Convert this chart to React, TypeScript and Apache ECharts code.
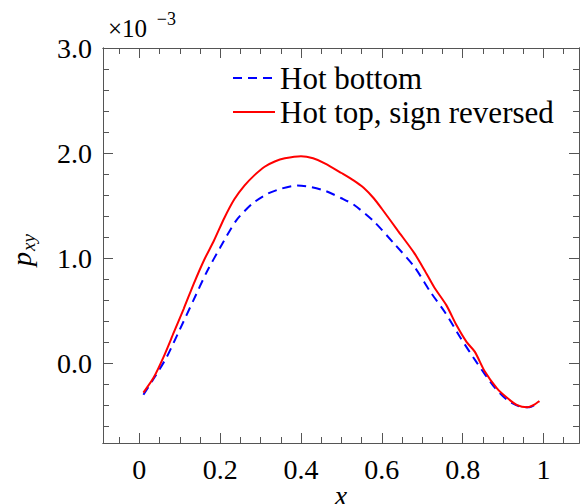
import React, { useEffect, useRef } from 'react';
import * as echarts from 'echarts';

// ---- data (y values in units of 1e-3) ----
const hotBottomX = [0.01, 0.04, 0.068, 0.1, 0.134, 0.167, 0.2, 0.24, 0.28, 0.316, 0.35, 0.39, 0.42, 0.46, 0.5, 0.53, 0.58, 0.63, 0.68, 0.72, 0.757, 0.795, 0.836, 0.877, 0.91, 0.94, 0.965, 0.99];
const hotBottomY = [-0.3, -0.12, 0.06, 0.32, 0.6, 0.87, 1.1, 1.36, 1.52, 1.61, 1.66, 1.69, 1.68, 1.64, 1.57, 1.51, 1.35, 1.14, 0.92, 0.68, 0.48, 0.24, 0.0, -0.22, -0.35, -0.41, -0.42, -0.37];

const hotTopX = [0.01, 0.035, 0.06, 0.085, 0.11, 0.135, 0.16, 0.185, 0.21, 0.235, 0.26, 0.285, 0.31, 0.335, 0.36, 0.4, 0.43, 0.46, 0.5, 0.53, 0.555, 0.58, 0.6, 0.64, 0.68, 0.705, 0.73, 0.76, 0.785, 0.81, 0.83, 0.855, 0.885, 0.91, 0.935, 0.96, 0.975, 0.99];
const hotTopY = [-0.28, -0.14, 0.06, 0.29, 0.52, 0.76, 0.98, 1.17, 1.38, 1.56, 1.69, 1.79, 1.87, 1.92, 1.95, 1.97, 1.95, 1.9, 1.81, 1.74, 1.67, 1.57, 1.47, 1.26, 1.05, 0.89, 0.72, 0.55, 0.36, 0.2, 0.11, -0.08, -0.24, -0.33, -0.4, -0.42, -0.4, -0.36];

const xMajorTicks = [0, 0.2, 0.4, 0.6, 0.8, 1];
const xMinorTicks = [-0.05, 0.05, 0.1, 0.15, 0.25, 0.3, 0.35, 0.45, 0.5, 0.55, 0.65, 0.7, 0.75, 0.85, 0.9, 0.95, 1.05];
const yMajorTicks = [0, 1, 2, 3];
const yMinorTicks = [-0.6, -0.4, -0.2, 0.2, 0.4, 0.6, 0.8, 1.2, 1.4, 1.6, 1.8, 2.2, 2.4, 2.6, 2.8];

const seriesNames = ['Hot bottom', 'Hot top, sign reversed'];

const X_MIN = -0.09;
const X_MAX = 1.088;
const Y_MIN = -0.76;
const Y_MAX = 3.0;

const AXIS = '#555';
const FONT = '"Liberation Serif", "Times New Roman", serif';

function xAxisDef(position: string, ticks: number[], len: number, labels: boolean) {
  return {
    type: 'value',
    position,
    min: X_MIN,
    max: X_MAX,
    axisLine: { show: true, onZero: false, lineStyle: { color: AXIS, width: 1 } },
    axisTick: { show: true, inside: true, length: len, customValues: ticks, lineStyle: { color: AXIS, width: 1 } },
    axisLabel: labels
      ? {
          show: true,
          customValues: ticks,
          formatter: (v: number) => String(Math.round(v * 10) / 10),
          fontFamily: FONT,
          fontSize: 28,
          color: '#000',
          margin: 12,
        }
      : { show: false },
    splitLine: { show: false },
  };
}

function yAxisDef(position: string, ticks: number[], len: number, labels: boolean) {
  return {
    type: 'value',
    position,
    min: Y_MIN,
    max: Y_MAX,
    axisLine: { show: true, onZero: false, lineStyle: { color: AXIS, width: 1 } },
    axisTick: { show: true, inside: true, length: len, customValues: ticks, lineStyle: { color: AXIS, width: 1 } },
    axisLabel: labels
      ? {
          show: true,
          customValues: ticks,
          formatter: (v: number) => v.toFixed(1),
          fontFamily: FONT,
          fontSize: 28,
          color: '#000',
          margin: 11,
        }
      : { show: false },
    splitLine: { show: false },
  };
}

export default function App() {
  const ref = useRef<HTMLDivElement>(null);
  useEffect(() => {
    if (!ref.current) return;
    const chart = echarts.init(ref.current, undefined, { renderer: 'svg' });
    const option: any = {
      animation: false,
      backgroundColor: '#fff',
      grid: { left: 103, top: 48, width: 476, height: 395, containLabel: false, outerBoundsMode: 'none' },
      xAxis: [
        xAxisDef('bottom', xMajorTicks, 10, true),
        xAxisDef('bottom', xMinorTicks, 6, false),
        xAxisDef('top', xMajorTicks, 10, false),
        xAxisDef('top', xMinorTicks, 6, false),
      ],
      yAxis: [
        yAxisDef('left', yMajorTicks, 10, true),
        yAxisDef('left', yMinorTicks, 6, false),
        yAxisDef('right', yMajorTicks, 10, false),
        yAxisDef('right', yMinorTicks, 6, false),
      ],
      legend: {
        show: true,
        orient: 'vertical',
        left: 232,
        top: 61,
        padding: 0,
        itemWidth: 42,
        itemHeight: 14,
        itemGap: 0,
        data: seriesNames,
        itemStyle: { opacity: 0, color: 'rgba(0,0,0,0)', borderWidth: 0 },
        textStyle: { fontFamily: FONT, fontSize: 31, color: '#000', lineHeight: 34 },
      },
      series: [
        {
          name: seriesNames[0],
          type: 'line',
          xAxisIndex: 0,
          yAxisIndex: 0,
          data: hotBottomX.map((x, i) => [x, hotBottomY[i]]),
          symbol: 'none',
          smooth: 0.25,
          lineStyle: { color: '#0000ff', width: 2, type: [9, 6] },
          itemStyle: { color: '#0000ff' },
        },
        {
          name: seriesNames[1],
          type: 'line',
          xAxisIndex: 0,
          yAxisIndex: 0,
          data: hotTopX.map((x, i) => [x, hotTopY[i]]),
          symbol: 'none',
          smooth: 0.25,
          lineStyle: { color: '#ff0000', width: 2, type: 'solid' },
          itemStyle: { color: '#ff0000' },
        },
      ],
      graphic: [
        {
          type: 'text',
          x: 147,
          y: 28,
          style: { text: '×10', fontSize: 25, fontFamily: FONT, fill: '#000', align: 'right', verticalAlign: 'middle' },
        },
        {
          type: 'text',
          x: 176,
          y: 19,
          style: { text: '−3', fontSize: 18, fontFamily: FONT, fill: '#000', align: 'right', verticalAlign: 'middle' },
        },
        {
          type: 'group',
          x: 21,
          y: 266,
          rotation: Math.PI / 2,
          children: [
            {
              type: 'text',
              x: 0,
              y: 0,
              style: { text: 'p', fontSize: 28, fontStyle: 'italic', fontFamily: FONT, fill: '#000', align: 'left', verticalAlign: 'middle' },
            },
            {
              type: 'text',
              x: 15,
              y: 7.5,
              style: { text: 'xy', fontSize: 19, fontStyle: 'italic', fontFamily: FONT, fill: '#000', align: 'left', verticalAlign: 'middle' },
            },
          ],
        },
        {
          type: 'text',
          x: 341,
          y: 495,
          style: { text: 'x', fontSize: 28, fontStyle: 'italic', fontFamily: FONT, fill: '#000', align: 'center', verticalAlign: 'middle' },
        },
      ],
    };
    chart.setOption(option);
    return () => chart.dispose();
  }, []);
  return (
    <div
      ref={ref}
      style={{ position: 'fixed', left: 0, top: 0, width: 583, height: 504 }}
    />
  );
}
